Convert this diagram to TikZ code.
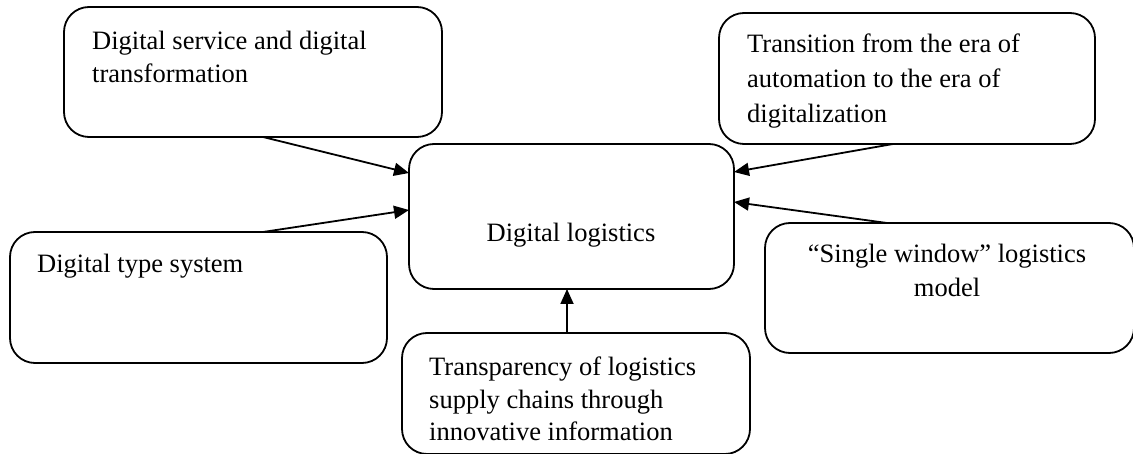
\documentclass[tikz,border=0pt]{standalone}
\usepackage{fontspec}
\setmainfont{Liberation Serif}
\usetikzlibrary{calc,arrows.meta}
\begin{document}
\begin{tikzpicture}[x=1pt,y=-1pt,
  box/.style={draw, line width=1.8pt, rounded corners=25pt, inner sep=0pt, outer sep=0pt},
  txt/.style={inner sep=0pt, font=\fontsize{26.5}{33.5}\selectfont},
  arr/.style={line width=1.8pt, -{Triangle[length=15pt,width=13pt]}}]
\useasboundingbox (0,0) rectangle (1133,454);
% boxes
\node[box, minimum width=378pt, minimum height=130pt] (b1) at (253,72) {};
\node[box, minimum width=376pt, minimum height=131pt] (b2) at (907,78.5) {};
\node[box, minimum width=325pt, minimum height=145pt] (c) at (571.5,216.5) {};
\node[box, minimum width=377pt, minimum height=131pt] (b4) at (198.5,297.5) {};
\node[box, minimum width=369pt, minimum height=130pt] (b5) at (949.5,288) {};
\node[box, minimum width=348pt, minimum height=121pt] (b6) at (576,393.5) {};
% texts
\node[txt, anchor=base west, align=left] (t1) at (92,50) {Digital service and digital};
\node[txt, anchor=base west, align=left] (t1b) at (92,83) {transformation};
\node[txt, anchor=base west] (t2a) at (747,53) {Transition from the era of};
\node[txt, anchor=base west] (t2b) at (747,88) {automation to the era of};
\node[txt, anchor=base west] (t2c) at (747,123) {digitalization};
\node[txt, anchor=base] (tc) at (571,242) {Digital logistics};
\node[txt, anchor=base west] (t4) at (37,273) {Digital type system};
\node[txt, anchor=base] (t5a) at (947,263) {“Single window” logistics};
\node[txt, anchor=base] (t5b) at (947,297) {model};
\node[txt, anchor=base west] (t6a) at (429,375) {Transparency of logistics};
\node[txt, anchor=base west] (t6b) at (429,408) {supply chains through};
\node[txt, anchor=base west] (t6c) at (429,440) {innovative information};
% connectors
\coordinate (s1) at ($(b1.south west)+(199,0)$);
\coordinate (e1) at ($(c.north west)+(0,29)$);
\coordinate (s2) at ($(b4.north west)+(253,0)$);
\coordinate (e2) at ($(c.north west)+(0,66)$);
\coordinate (s3) at ($(b2.south west)+(174,0)$);
\coordinate (e3) at ($(c.north east)+(0,28)$);
\coordinate (s4) at ($(b5.north west)+(122,0)$);
\coordinate (e4) at ($(c.north east)+(0,58)$);
\coordinate (s5) at ($(b6.north west)+(165,0)$);
\draw[arr] (s1) -- (e1);
\draw[arr] (s2) -- (e2);
\draw[arr] (s3) -- (e3);
\draw[arr] (s4) -- (e4);
\draw[arr] (s5) -- (s5 |- c.south);
\end{tikzpicture}
\end{document}
